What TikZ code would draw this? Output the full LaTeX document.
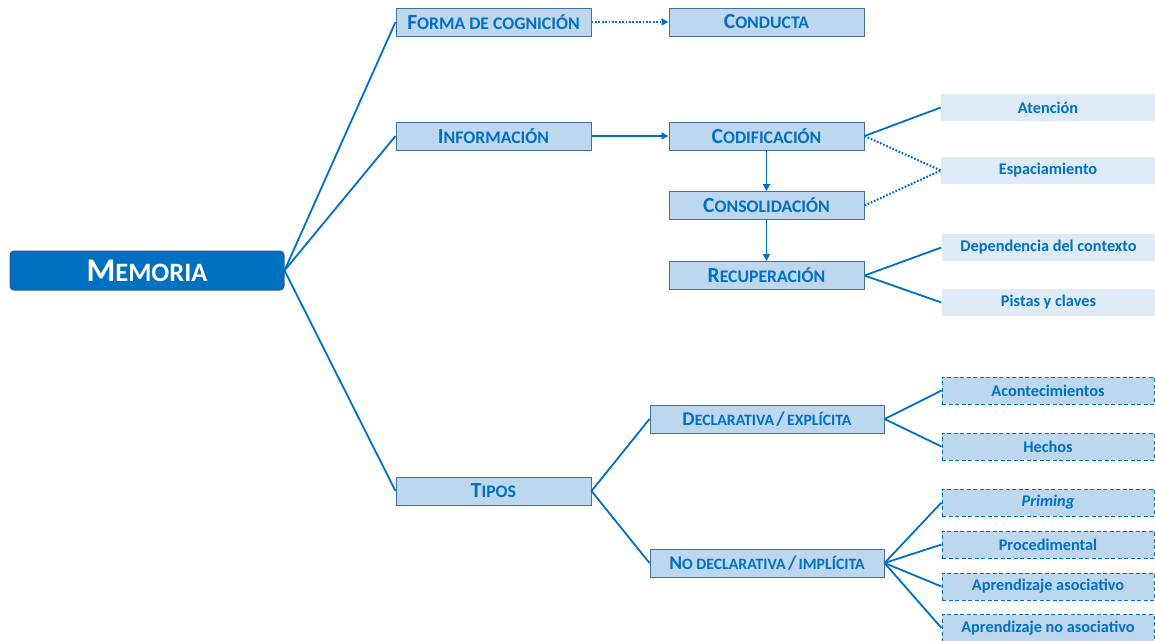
\documentclass[tikz,border=0pt]{standalone}
\usepackage{fontspec}
\setmainfont{Carlito}
\usetikzlibrary{arrows.meta}
\definecolor{txtblue}{RGB}{0,112,192}
\definecolor{memborder}{RGB}{47,85,151}
\definecolor{boxfill}{RGB}{189,215,238}
\definecolor{boxborder}{RGB}{65,113,156}
\definecolor{leaffill}{RGB}{222,235,247}
\newcommand\SCb[2]{{\fontsize{21.5}{21.5}\selectfont #1}{\fontsize{17.7}{17.7}\selectfont #2}}
\newcommand\SCw[2]{{\fontsize{19.5}{19.5}\selectfont #1}{\fontsize{15.8}{15.8}\selectfont #2}}
\newcommand\SCs[1]{{\fontsize{15.8}{15.8}\selectfont #1}}
\newcommand\SCB[1]{{\fontsize{19.5}{19.5}\selectfont #1}}
\tikzset{
  mainbox/.style={rounded corners=4pt, fill=txtblue, draw=memborder, line width=1pt,
    minimum width=274pt, minimum height=39pt, inner sep=0pt, text=white,
    font=\bfseries},
  catbox/.style={fill=boxfill, draw=boxborder, line width=1pt, minimum width=195pt,
    minimum height=28pt, inner sep=0pt, text=txtblue, font=\bfseries},
  widebox/.style={catbox, minimum width=234pt},
  leafbox/.style={fill=leaffill, minimum width=214pt, minimum height=27pt,
    inner sep=0pt, text=txtblue, font=\bfseries\fontsize{16.3}{16.3}\selectfont},
  dleaf/.style={fill=boxfill, draw=txtblue, line width=1pt, dash pattern=on 4pt off 2.5pt,
    minimum width=212pt, minimum height=27pt, inner sep=0pt, text=txtblue,
    font=\bfseries\fontsize{16.3}{16.3}\selectfont},
  link/.style={draw=txtblue, line width=1.8pt},
  dotlink/.style={draw=txtblue, line width=2pt, dash pattern=on 1.8pt off 1.6pt},
  arr/.style={-{Triangle[length=7pt,width=7pt]}},
}
\begin{document}
\begin{tikzpicture}[x=1pt,y=-1pt]
\useasboundingbox (0,0) rectangle (1155,640);
\node[mainbox] (mem) at (147,270.5) {{\fontsize{33}{33}\selectfont M}{\fontsize{26.5}{26.5}\selectfont EMORIA}};
\node[catbox] (forma) at (493.5,22) {\SCb{F}{ORMA DE COGNICIÓN}};
\node[catbox] (cond) at (766.5,22) {\SCb{C}{ONDUCTA}};
\node[catbox] (info) at (493.5,136) {\SCb{I}{NFORMACIÓN}};
\node[catbox] (codi) at (766.5,136) {\SCb{C}{ODIFICACIÓN}};
\node[catbox] (cons) at (766.5,205.5) {\SCb{C}{ONSOLIDACIÓN}};
\node[catbox] (recu) at (766.5,275.5) {\SCb{R}{ECUPERACIÓN}};
\node[catbox] (tipos) at (493.5,491) {\SCb{T}{IPOS}};
\node[widebox] (decl) at (767,419) {\SCw{D}{ECLARATIVA} \SCB{/} \SCs{EXPLÍCITA}};
\node[widebox] (nodecl) at (767,563) {\SCw{N}{O DECLARATIVA} \SCB{/} \SCs{IMPLÍCITA}};
\node[leafbox] (aten) at (1048,107.5) {Atención};
\node[leafbox] (espa) at (1048,170.5) {Espaciamiento};
\node[leafbox] (depe) at (1048.5,247.5) {Dependencia del contexto};
\node[leafbox] (pist) at (1048.5,302.5) {Pistas y claves};
\node[dleaf] (acon) at (1048,390.5) {Acontecimientos};
\node[dleaf] (hech) at (1048,446.5) {Hechos};
\node[dleaf] (prim) at (1048,502.5) {\itshape Priming};
\node[dleaf] (proc) at (1048,544.5) {Procedimental};
\node[dleaf] (apas) at (1048,586.5) {Aprendizaje asociativo};
\node[dleaf] (apno) at (1048,628) {Aprendizaje no asociativo};
% connectors
\draw[link] (mem.east) -- (forma.west);
\draw[link] (mem.east) -- (info.west);
\draw[link] (mem.east) -- (tipos.west);
\draw[dotlink,arr] (forma.east) -- (cond.west);
\draw[link,arr] (info.east) -- (codi.west);
\draw[link,arr] (codi.south) -- (cons.north);
\draw[link,arr] (cons.south) -- (recu.north);
\draw[link] (codi.east) -- (aten.west);
\draw[dotlink] (codi.east) -- (espa.west);
\draw[dotlink] (cons.east) -- (espa.west);
\draw[link] (recu.east) -- (depe.west);
\draw[link] (recu.east) -- (pist.west);
\draw[link] (tipos.east) -- (decl.west);
\draw[link] (tipos.east) -- (nodecl.west);
\draw[link] (decl.east) -- (acon.west);
\draw[link] (decl.east) -- (hech.west);
\draw[link] (nodecl.east) -- (prim.west);
\draw[link] (nodecl.east) -- (proc.west);
\draw[link] (nodecl.east) -- (apas.west);
\draw[link] (nodecl.east) -- (apno.west);
\end{tikzpicture}
\end{document}
